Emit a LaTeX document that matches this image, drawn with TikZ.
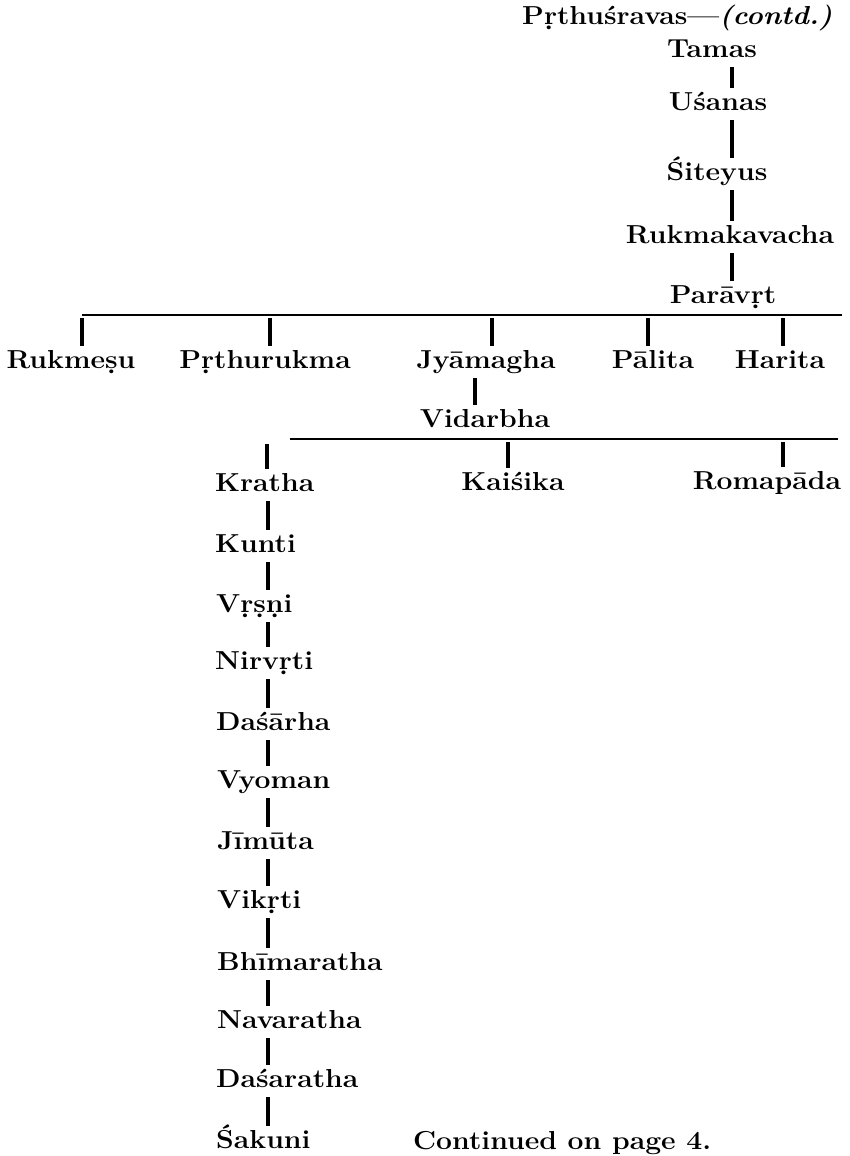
\documentclass[tikz,border=0pt]{standalone}
\usepackage{graphicx}
\newcommand{\nm}[1]{\scalebox{1.09}[1]{#1}}
\tikzset{
  nm/.style={font=\fontsize{26}{30}\selectfont\bfseries, inner xsep=0pt, inner ysep=4pt,
    text height=18pt, text depth=6pt, anchor=base},
  nml/.style={nm, anchor=base west},
  vline/.style={line width=3.2pt},
  hline/.style={line width=2pt},
}
\begin{document}
\begin{tikzpicture}[x=1pt,y=-1pt]
\useasboundingbox (0,0) rectangle (849,1156);
% top chain
\node[nml] (prthu) at (522,25) {\nm{P\d{r}thu\'sravas---\textit{(contd.)}}};
\node[nm] (tamas) at (712,57) {\nm{Tamas}};
\node[nm] (usanas) at (718,110) {\nm{U\'sanas}};
\node[nm] (siteyus) at (717,180) {\nm{\'Siteyus}};
\node[nm] (rukmaka) at (730,243) {\nm{Rukmakavacha}};
\node[nm] (paravrt) at (723,303) {\nm{Par\=av\d{r}t}};
\coordinate (cx1) at (732,0);
\draw[vline] (tamas.south -| cx1) -- (usanas.north -| cx1);
\draw[vline] (usanas.south -| cx1) -- (siteyus.north -| cx1);
\draw[vline] (siteyus.south -| cx1) -- (rukmaka.north -| cx1);
\draw[vline] (rukmaka.south -| cx1) -- (paravrt.north -| cx1);
% first generation
\coordinate (barAL) at (82,315);
\coordinate (barAR) at (842,315);
\draw[hline] (barAL) -- (barAR);
\node[nm] (rukmesu) at (71,368) {\nm{Rukme\d{s}u}};
\node[nm] (prthurukma) at (265,368) {\nm{P\d{r}thurukma}};
\node[nm] (jyamagha) at (486,368) {\nm{Jy\=amagha}};
\node[nm] (palita) at (653,368) {\nm{P\=alita}};
\node[nm] (harita) at (780,368) {\nm{Harita}};
\coordinate (tA1) at (82,318);
\coordinate (tA2) at (270,318);
\coordinate (tA3) at (492,318);
\coordinate (tA4) at (648,318);
\coordinate (tA5) at (783,318);
\draw[vline] (tA1) -- (tA1 |- rukmesu.north);
\draw[vline] (tA2) -- (tA2 |- prthurukma.north);
\draw[vline] (tA3) -- (tA3 |- jyamagha.north);
\draw[vline] (tA4) -- (tA4 |- palita.north);
\draw[vline] (tA5) -- (tA5 |- harita.north);
% Vidarbha
\node[nm] (vidarbha) at (485,427) {\nm{Vidarbha}};
\coordinate (cx2) at (475,0);
\draw[vline] (jyamagha.south -| cx2) -- (vidarbha.north -| cx2);
\coordinate (barBL) at (290,439);
\coordinate (barBR) at (838,439);
\draw[hline] (barBL) -- (barBR);
\node[nml] (kratha) at (215,491) {\nm{Kratha}};
\node[nm] (kaisika) at (513,490) {\nm{Kai\'sika}};
\node[nm] (romapada) at (767,489) {\nm{Romap\=ada}};
\coordinate (tB1) at (267,444);
\coordinate (tB2) at (508,442);
\coordinate (tB3) at (783,442);
\draw[vline] (tB1) -- (tB1 |- kratha.north);
\draw[vline] (tB2) -- (tB2 |- kaisika.north);
\draw[vline] (tB3) -- (tB3 |- romapada.north);
% column
\node[nml] (kunti) at (215,552) {\nm{Kunti}};
\node[nml] (vrsni) at (216,612) {\nm{V\d{r}\d{s}\d{n}i}};
\node[nml] (nirvrti) at (215,669) {\nm{Nirv\d{r}ti}};
\node[nml] (dasarha) at (216,730) {\nm{Da\'s\=arha}};
\node[nml] (vyoman) at (217,788) {\nm{Vyoman}};
\node[nml] (jimuta) at (217,849) {\nm{J\={\i}m\=uta}};
\node[nml] (vikrti) at (217,908) {\nm{Vik\d{r}ti}};
\node[nml] (bhimaratha) at (217,970) {\nm{Bh\={\i}maratha}};
\node[nml] (navaratha) at (217,1028) {\nm{Navaratha}};
\node[nml] (dasaratha) at (216,1087) {\nm{Da\'saratha}};
\node[nml] (sakuni) at (216,1148) {\nm{\'Sakuni}};
\node[nml] (cont) at (413,1149) {\nm{Continued on page 4.}};
\coordinate (cx3) at (268,0);
\foreach \a/\b in {kratha/kunti,kunti/vrsni,vrsni/nirvrti,nirvrti/dasarha,dasarha/vyoman,
  vyoman/jimuta,jimuta/vikrti,vikrti/bhimaratha,bhimaratha/navaratha,navaratha/dasaratha,
  dasaratha/sakuni}
  \draw[vline] (\a.south -| cx3) -- (\b.north -| cx3);
\end{tikzpicture}
\end{document}
